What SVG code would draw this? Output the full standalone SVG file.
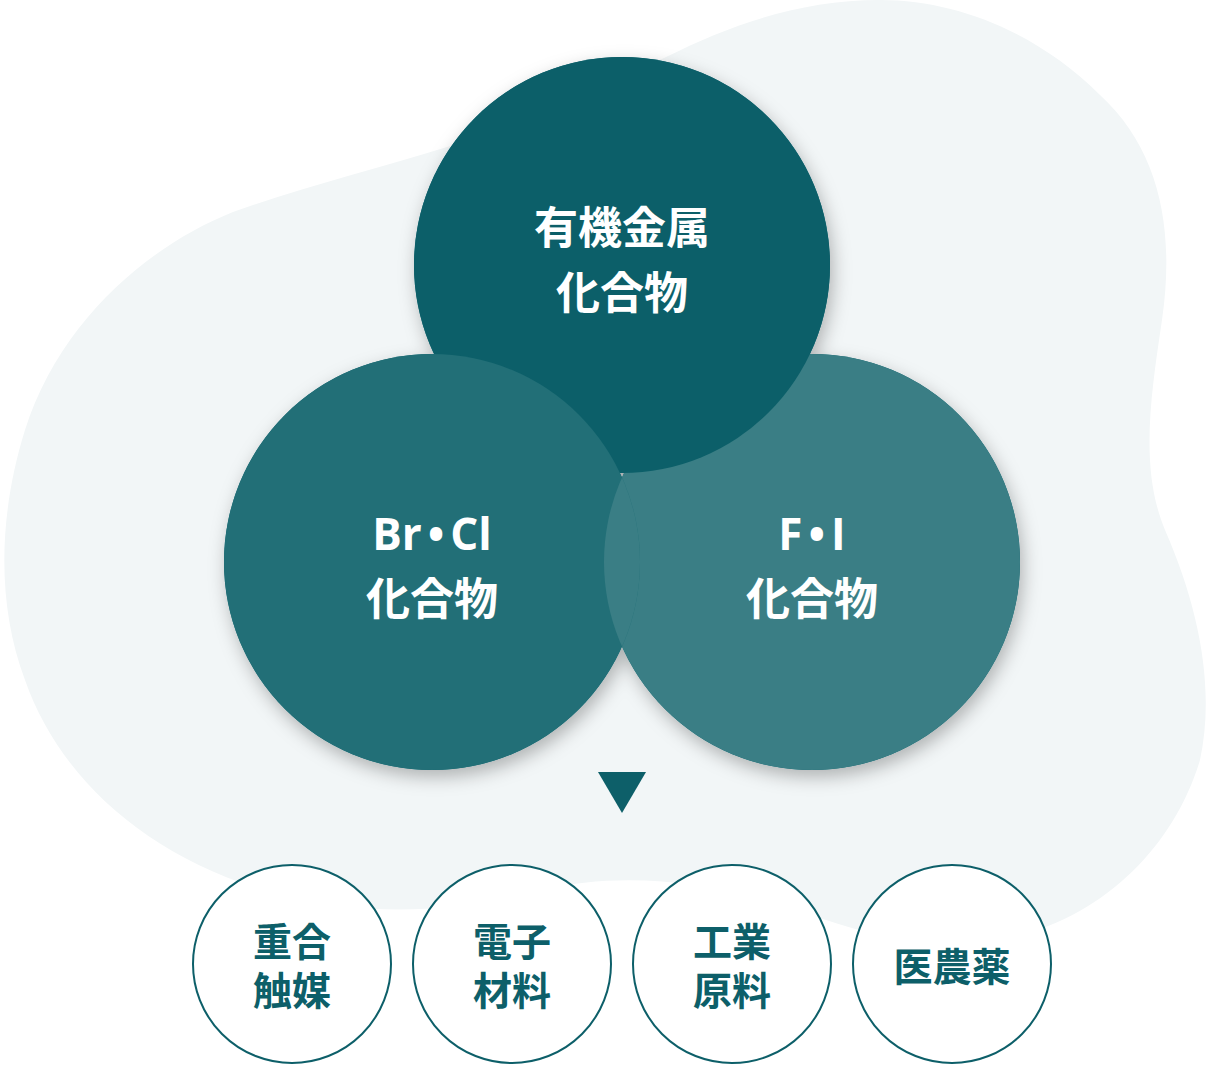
<svg xmlns="http://www.w3.org/2000/svg" width="1210" height="1065" viewBox="0 0 1210 1065">
  <defs>
    <style>
      .big { font-family: "Noto Sans CJK JP", "Noto Sans", sans-serif; font-weight: 700; font-size: 44px; fill: #ffffff; text-anchor: middle; }
      .latin { font-family: "Open Sans", "Noto Sans CJK JP", sans-serif; }
      .small { font-family: "Noto Sans CJK JP", "Noto Sans", sans-serif; font-weight: 700; font-size: 39px; fill: #0d5f69; text-anchor: middle; }
      .app { fill: #ffffff; stroke: #0d5f69; stroke-width: 2; }
    </style>
    <filter id="shadow" x="-20%" y="-20%" width="140%" height="140%">
      <feDropShadow dx="3" dy="7" stdDeviation="9" flood-color="#000000" flood-opacity="0.28"/>
    </filter>
    <clipPath id="clipLeft">
      <circle cx="432" cy="562" r="208"/>
    </clipPath>
  </defs>

  <path id="blob" fill="#f2f6f7" d="M 447 147 C 380 168 300 188 233 212 C 150 245 60 320 25 430 C 0 510 -5 600 25 680 C 60 780 150 860 280 895 C 360 915 450 915 540 890 C 620 872 700 880 780 905 C 850 928 900 946 960 944 C 1080 940 1170 860 1200 760 C 1215 690 1200 610 1165 530 C 1140 470 1150 400 1162 320 C 1175 230 1160 150 1100 95 C 1040 35 960 0 880 0 C 800 0 730 25 666 57 C 600 90 520 125 447 147 Z"/>

  <g id="shadows" filter="url(#shadow)" fill="#0d5f69">
    <circle cx="622" cy="265" r="208"/>
    <circle cx="432" cy="562" r="208"/>
    <circle cx="812" cy="562" r="208"/>
  </g>

  <g id="node-right">
    <circle cx="812" cy="562" r="208" fill="#3a7e85"/>
  </g>
  <g id="node-top">
    <circle cx="622" cy="265" r="208" fill="#0c5f69"/>
    <text class="big" x="622" y="244">有機金属</text>
    <text class="big" x="622" y="309">化合物</text>
  </g>
  <g id="node-left">
    <circle cx="432" cy="562" r="208" fill="#226f77"/>
    <text class="big latin" x="432" y="550">Br<tspan dx="6">•</tspan><tspan dx="6">Cl</tspan></text>
    <text class="big" x="432" y="615">化合物</text>
  </g>
  <g id="node-right-overlap">
    <circle cx="812" cy="562" r="208" fill="#3a7e85" clip-path="url(#clipLeft)"/>
    <text class="big latin" x="812" y="550">F<tspan dx="6">•</tspan><tspan dx="6">I</tspan></text>
    <text class="big" x="812" y="615">化合物</text>
  </g>

  <g id="connectors">
    <polygon points="598,772 646,772 622,813" fill="#0d5f69"/>
  </g>

  <g id="node-app1">
    <circle class="app" cx="292" cy="964" r="99"/>
    <text class="small" x="292" y="956">重合<tspan x="292" dy="49">触媒</tspan></text>
  </g>
  <g id="node-app2">
    <circle class="app" cx="512" cy="964" r="99"/>
    <text class="small" x="512" y="956">電子<tspan x="512" dy="49">材料</tspan></text>
  </g>
  <g id="node-app3">
    <circle class="app" cx="732" cy="964" r="99"/>
    <text class="small" x="732" y="956">工業<tspan x="732" dy="49">原料</tspan></text>
  </g>
  <g id="node-app4">
    <circle class="app" cx="952" cy="964" r="99"/>
    <text class="small" x="952" y="981">医農薬</text>
  </g>
</svg>
